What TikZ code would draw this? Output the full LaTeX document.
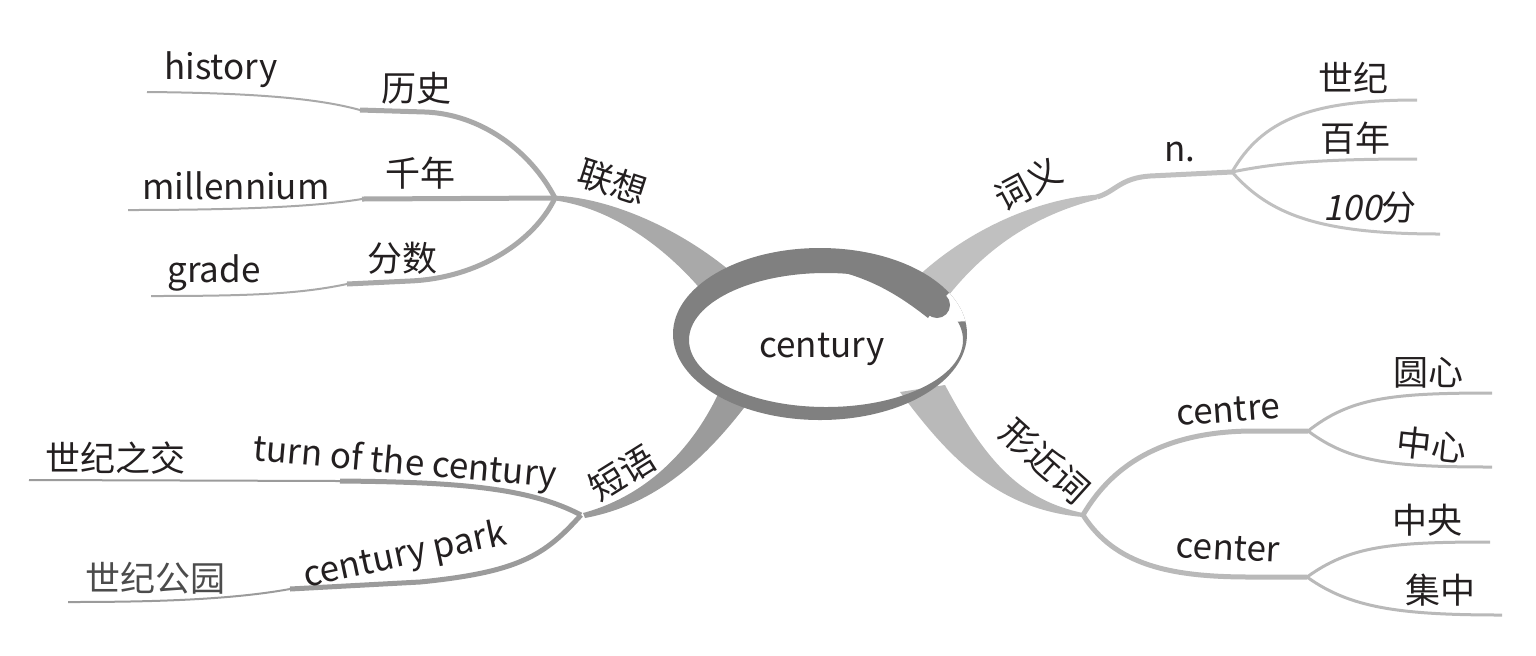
\documentclass[tikz,border=0pt]{standalone}
\usepackage{fontspec}
\setmainfont{Noto Sans CJK SC}
\newfontfamily\slnt[FakeSlant=0.2]{Noto Sans CJK SC}
\usetikzlibrary{positioning}

\definecolor{ringc}{HTML}{808080}
\definecolor{brA}{HTML}{A9A9A9}
\definecolor{brB}{HTML}{C0C0C0}
\definecolor{brC}{HTML}{9B9B9B}
\definecolor{brD}{HTML}{B9B9B9}
\definecolor{txt}{HTML}{231F20}

\tikzset{
  lbl/.style={text=txt, inner sep=1pt, font=\fontsize{17.5}{20}\selectfont},
  stem/.style={line width=2.5pt},
  twig/.style={line width=1pt},
  leaf/.style={line width=1.5pt}
}

\begin{document}
\begin{tikzpicture}[x=0.5pt, y=-0.5pt]
  \useasboundingbox (0,0) rectangle (1536,655);

  % junctions and bends
  \coordinate (jA) at (555,198);
  \coordinate (jB) at (1097,197);
  \coordinate (jN) at (1232,172);
  \coordinate (jC) at (581,515);
  \coordinate (jD) at (1083,515);
  \coordinate (jCe) at (1308,431);
  \coordinate (jCt) at (1307,577);
  \coordinate (kHis) at (360,110);
  \coordinate (kMil) at (362,199);
  \coordinate (kGra) at (347,284);
  \coordinate (kTurn) at (340,481);
  \coordinate (kPark) at (290,589);
  % free ends
  \coordinate (eHis) at (147,92);
  \coordinate (eMil) at (128,210);
  \coordinate (eGra) at (151,296);
  \coordinate (eSj) at (1417,100);
  \coordinate (eBn) at (1417,159);
  \coordinate (eBf) at (1440,234);
  \coordinate (eTurn) at (29,480);
  \coordinate (ePark) at (68,602);
  \coordinate (eYx) at (1492,393);
  \coordinate (eZx) at (1492,467);
  \coordinate (eZy) at (1490,542);
  \coordinate (eJz) at (1502,615);

  %% main branches
  \fill[brA] ([yshift=1.2pt]jA) .. controls (610,198) and (680,228) .. (735,275)
    -- (708,298) .. controls (665,245) and (610,208) .. ([yshift=-1.2pt]jA) -- cycle;
  \fill[brB] (912,282) .. controls (960,235) and (1030,200) .. ([yshift=1.2pt]jB)
    -- ([yshift=-1.2pt]jB) .. controls (1035,215) and (985,248) .. (945,300) -- cycle;
  \fill[brC] (720,390) .. controls (695,445) and (650,495) .. ([xshift=1pt,yshift=1pt]jC)
    -- ([xshift=2pt,yshift=-1.5pt]jC) .. controls (655,505) and (705,460) .. (750,400) -- cycle;
  \fill[brD] (900,392) .. controls (950,460) and (1000,510) .. ([yshift=-1pt]jD)
    -- ([yshift=1pt]jD) .. controls (1020,500) and (985,460) .. (945,385) -- cycle;

  %% 联想
  \draw[stem, brA] (jA) .. controls (530,150) and (480,114) .. (425,112) -- (kHis);
  \draw[twig, brA] (kHis) .. controls (320,99) and (260,93) .. (eHis);
  \draw[stem, brA] (jA) -- (kMil);
  \draw[twig, brA] (kMil) .. controls (320,206) and (250,210) .. (eMil);
  \draw[stem, brA] (jA) .. controls (535,240) and (480,278) .. (410,281) -- (kGra);
  \draw[twig, brA] (kGra) .. controls (300,294) and (250,296) .. (eGra);

  %% 词义
  \draw[stem, brB] (jB) .. controls (1115,192) and (1120,178) .. (1150,176) -- (jN);
  \draw[leaf, brB] (jN) .. controls (1262,120) and (1310,100) .. (eSj);
  \draw[leaf, brB] (jN) .. controls (1280,162) and (1330,159) .. (eBn);
  \draw[leaf, brB] (jN) .. controls (1270,215) and (1320,234) .. (eBf);

  %% 短语
  \draw[stem, brC] (jC) .. controls (530,488) and (460,482) .. (kTurn);
  \draw[twig, brC] (kTurn) -- (eTurn);
  \draw[stem, brC] (jC) .. controls (545,555) and (520,572) .. (420,582) -- (kPark);
  \draw[twig, brC] (kPark) .. controls (230,600) and (150,602) .. (ePark);

  %% 形近词
  \draw[stem, brD] (jD) .. controls (1115,460) and (1170,432) .. (1250,431) -- (jCe);
  \draw[stem, brD] (jD) .. controls (1115,565) and (1170,577) .. (1250,577) -- (jCt);
  \draw[leaf, brD] (jCe) .. controls (1350,398) and (1390,393) .. (eYx);
  \draw[leaf, brD] (jCe) .. controls (1350,462) and (1390,467) .. (eZx);
  \draw[leaf, brD] (jCt) .. controls (1350,546) and (1390,542) .. (eZy);
  \draw[leaf, brD] (jCt) .. controls (1350,608) and (1400,615) .. (eJz);

  %% ring round the centre
  \fill[ringc, even odd rule] (820,334) ellipse [x radius=73.5pt, y radius=43pt]
    (826,340) ellipse [x radius=68.5pt, y radius=33.5pt];
  \begin{scope}
    \clip (820,334) ellipse [x radius=73.5pt, y radius=43pt];
    \fill[white] (917,325) -- (967,275) -- (990,275) -- (990,320) -- (950,322) -- cycle;
  \end{scope}
  \fill[ringc] (845,273) .. controls (880,283) and (905,300) .. (928,318)
    -- (946,292) .. controls (920,272) and (880,266) .. cycle;
  \fill[ringc] (937,305) circle [radius=6.5pt];

  %% labels
  \node[lbl] (ctr) at (822,349) {century};

  \node[lbl, rotate=-18] (lx) at (613,182) {联想};
  \node[lbl] (ls) at (416,88) {历史};
  \node[lbl] (his) at (221,70) {history};
  \node[lbl] (qn) at (420,173) {千年};
  \node[lbl] (mil) at (236,186) {millennium};
  \node[lbl] (fs) at (402,258) {分数};
  \node[lbl] (gra) at (214,273) {grade};

  \node[lbl, rotate=28] (cy) at (1028,184) {词义};
  \node[lbl] (nn) at (1180,152) {n.};
  \node[lbl] (sj) at (1353,78) {世纪};
  \node[lbl] (bn) at (1355,138) {百年};
  \node[lbl] (bf) at (1370,208) {{\slnt 100}分};

  \node[lbl, rotate=32] (dy) at (622,473) {短语};
  \node[lbl, rotate=-5] (turn) at (405,464) {turn of the century};
  \node[lbl] (sjzj) at (116,458) {世纪之交};
  \node[lbl, rotate=12] (park) at (405,556) {century park};
  \node[lbl, text=black!70] (sjgy) at (155,578) {世纪公园};

  \node[lbl, rotate=-42] (xjc) at (1045,461) {形近词};
  \node[lbl, rotate=4] (cre) at (1228,410) {centre};
  \node[lbl] (yx) at (1428,373) {圆心};
  \node[lbl, rotate=-6] (zx) at (1432,445) {中心};
  \node[lbl, rotate=-3] (cer) at (1228,548) {center};
  \node[lbl] (zy) at (1427,520) {中央};
  \node[lbl] (jz) at (1440,590) {集中};
\end{tikzpicture}
\end{document}
